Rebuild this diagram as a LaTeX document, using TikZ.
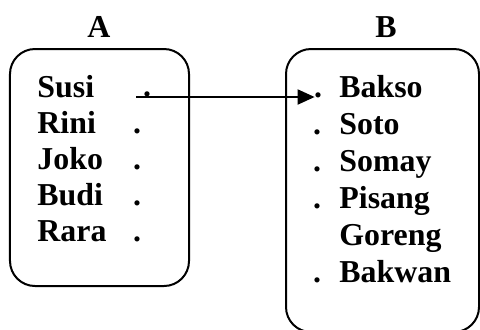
\documentclass[tikz,border=0pt]{standalone}
\usepackage{fontspec}
\setmainfont{Liberation Serif}
\usetikzlibrary{arrows.meta}

\begin{document}
\begin{tikzpicture}[x=0.5bp,y=-0.5bp,
  set/.style={draw, rounded corners=12.5bp, line width=1bp, inner sep=0pt},
  item/.style={anchor=base west, inner sep=0pt, font=\fontsize{16}{19}\selectfont\bfseries},
  mark dot/.style={anchor=base, inner sep=0pt, font=\fontsize{16}{19}\selectfont\bfseries}]
\useasboundingbox (0,0) rectangle (480,329);
% the two sets
\node[set, minimum width=89.5bp, minimum height=118.5bp] (setA) at (99.5,167.5) {};
\node[set, minimum width=96.5bp, minimum height=141.5bp] (setB) at (382.5,190.5) {};
\node[mark dot] (titleA) at (99,37) {A};
\node[mark dot] (titleB) at (386,37) {B};
% members of A
\foreach \name/\y in {Susi/97, Rini/133, Joko/169, Budi/205, Rara/241}
  \node[item] (\name) at (37,\y) {\name};
\node[mark dot] (dotSusi) at (147,96) {.};
\foreach \name/\y in {Rini/133, Joko/169, Budi/205, Rara/241}
  \node[mark dot] (dot\name) at (137,\y) {.};
% members of B
\foreach \name/\y in {Bakso/97, Soto/134, Somay/171, Pisang/208, Goreng/245, Bakwan/282}
  \node[item] (\name) at (339,\y) {\name};
\node[mark dot] (dotBakso) at (318,97) {.};
\foreach \name/\y in {Soto/134, Somay/171, Pisang/208, Bakwan/282}
  \node[mark dot] (dot\name) at (317,\y) {.};
\draw[line width=1bp, -{Triangle[length=8.5bp,width=7.5bp]}]
  ([xshift=-5.5bp,yshift=-0.5bp]dotSusi.base) -- ([xshift=0.5bp]dotBakso.base west);
\end{tikzpicture}
\end{document}
